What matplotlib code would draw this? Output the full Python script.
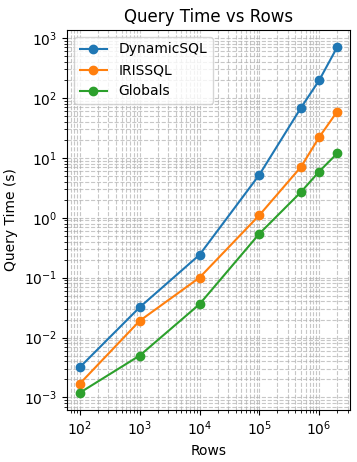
import numpy as np
import matplotlib
matplotlib.use("Agg")
import matplotlib.pyplot as plt

rows = [100, 1000, 10000, 100000, 500000, 1000000, 2000000]
dynamic_sql = [0.0032, 0.032, 0.24, 5.2, 69, 196, 700]
iris_sql = [0.0017, 0.019, 0.10, 1.1, 7.1, 22, 59]
globals_ = [0.0012, 0.005, 0.036, 0.54, 2.7, 5.9, 11.8]

fig = plt.figure(figsize=(3.57, 4.62), dpi=100)
ax = fig.add_axes([0.1877, 0.1126, 0.7927, 0.8225])
ax.plot(rows, dynamic_sql, marker='o', label='DynamicSQL')
ax.plot(rows, iris_sql, marker='o', label='IRISSQL')
ax.plot(rows, globals_, marker='o', label='Globals')

ax.set_xscale('log')
ax.set_yscale('log')
ax.set_title('Query Time vs Rows')
ax.set_xlabel('Rows')
ax.set_ylabel('Query Time (s)')
ax.legend()
ax.grid(True, which='both', linestyle='--', alpha=0.7)
fig.savefig('out.png', dpi=100)
